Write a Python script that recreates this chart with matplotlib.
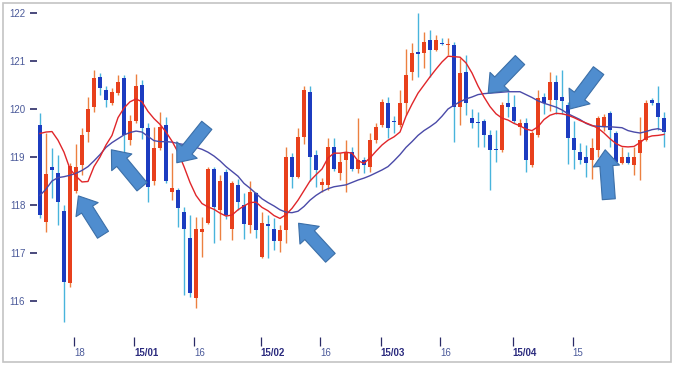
import numpy as np
import matplotlib
matplotlib.use('Agg')
import matplotlib.pyplot as plt
from matplotlib.patches import FancyArrowPatch, Rectangle, ArrowStyle

# daily candles (index 0 = first candle)
opens = [119.67, 117.65, 118.80, 118.66, 117.88, 116.37, 118.30, 118.83, 119.53, 120.05,
         120.67, 120.40, 120.12, 120.33, 120.64, 119.35, 119.74, 120.50, 119.60, 118.50,
         119.18, 119.67, 118.28, 118.31, 117.86, 117.31, 116.06, 117.44, 117.62, 118.76,
         117.90, 118.69, 117.51, 118.42, 118.00, 117.58, 118.24, 116.92, 117.60, 117.51,
         117.24, 117.48, 119.01, 118.59, 119.42, 120.36, 119.04, 118.42, 118.42, 119.21,
         118.66, 118.94, 119.11, 118.76, 118.94, 118.80, 119.35, 119.67, 120.12, 119.76,
         119.67, 120.12, 120.78, 121.18, 121.16, 121.44, 121.23, 121.38, 121.33, 121.33,
         120.05, 120.78, 119.81, 119.72, 119.74, 119.46, 119.17, 119.15, 120.12, 120.05,
         119.63, 119.70, 118.83, 119.46, 120.26, 120.19, 120.57, 120.24, 120.08, 119.39,
         119.11, 119.01, 118.94, 119.15, 119.63, 119.91, 119.49, 118.87, 119.01, 118.83,
         119.08, 119.35, 120.19, 120.12, 119.81]
highs = [119.91, 119.50, 119.18, 119.04, 118.00, 118.88, 119.28, 119.60, 120.26, 120.81,
         120.74, 120.47, 120.43, 120.71, 120.70, 119.87, 120.73, 120.60, 119.70, 119.63,
         119.94, 119.84, 119.08, 118.35, 117.96, 117.79, 117.76, 117.76, 118.80, 118.80,
         118.63, 118.75, 118.49, 118.55, 118.25, 118.49, 118.28, 117.86, 117.79, 117.72,
         117.58, 119.21, 119.08, 119.60, 120.47, 120.47, 119.15, 118.56, 119.39, 119.39,
         119.08, 119.35, 119.20, 119.81, 119.00, 119.49, 119.70, 120.20, 120.26, 119.85,
         120.40, 121.26, 121.37, 121.99, 121.61, 121.65, 121.55, 121.47, 121.47, 121.40,
         121.06, 121.13, 120.00, 119.94, 119.80, 119.56, 119.56, 120.15, 120.36, 120.30,
         119.80, 119.81, 119.55, 120.40, 120.33, 120.78, 120.70, 120.81, 120.15, 119.74,
         119.30, 119.25, 119.40, 119.85, 119.90, 119.95, 119.55, 119.20, 119.10, 119.21,
         119.84, 120.19, 120.22, 120.47, 119.94]
lows = [117.73, 117.44, 118.14, 117.58, 115.57, 116.30, 118.25, 118.63, 119.32, 119.94,
        120.29, 120.05, 120.08, 120.29, 119.10, 119.25, 119.70, 119.38, 118.07, 118.42,
        119.15, 118.45, 118.10, 117.55, 116.13, 116.09, 115.85, 116.92, 117.60, 117.20,
        117.27, 117.70, 117.27, 117.90, 117.30, 117.41, 117.31, 116.89, 116.89, 117.06,
        117.03, 117.20, 118.35, 118.56, 119.28, 118.49, 118.38, 118.28, 118.31, 118.70,
        118.52, 118.28, 118.70, 118.66, 118.66, 118.69, 119.30, 119.63, 119.39, 119.50,
        119.63, 119.87, 120.60, 120.67, 120.85, 120.67, 121.20, 121.33, 121.13, 119.32,
        119.67, 119.87, 119.60, 119.21, 119.20, 118.31, 118.90, 119.10, 119.84, 119.70,
        119.46, 118.69, 118.80, 119.42, 119.90, 119.95, 119.90, 119.90, 118.85, 118.76,
        118.85, 118.59, 118.55, 119.00, 119.55, 119.20, 118.85, 118.85, 118.85, 118.63,
        118.52, 119.33, 120.08, 119.56, 119.21]
closes = [117.79, 118.65, 118.72, 118.07, 116.40, 118.81, 118.80, 119.46, 120.01, 120.64,
          120.43, 120.19, 120.36, 120.57, 119.45, 119.74, 120.47, 119.60, 118.38, 119.18,
          119.63, 118.49, 118.35, 117.93, 117.51, 116.16, 117.51, 117.51, 118.76, 117.96,
          118.49, 117.79, 118.45, 118.07, 117.60, 118.28, 117.48, 117.62, 117.56, 117.24,
          117.48, 119.01, 118.59, 119.42, 120.40, 119.01, 118.73, 118.47, 119.21, 118.76,
          118.90, 119.08, 118.76, 118.94, 118.83, 119.35, 119.63, 120.15, 119.60, 119.72,
          120.12, 120.71, 121.16, 121.14, 121.40, 121.23, 121.44, 121.35, 121.36, 120.05,
          120.74, 120.12, 119.70, 119.70, 119.46, 119.15, 119.14, 120.08, 120.05, 119.74,
          119.70, 118.94, 119.49, 120.22, 120.12, 120.57, 120.19, 120.16, 119.39, 119.15,
          118.94, 118.87, 119.18, 119.81, 119.84, 119.56, 118.90, 119.01, 118.87, 119.01,
          119.35, 120.12, 120.12, 119.84, 119.53]

# moving averages as drawn (short = red, long = navy)
ma_short = [119.49, 119.52, 119.53, 119.35, 119.10, 118.75, 118.60, 118.48, 118.49, 118.80,
            119.00, 119.25, 119.45, 119.82, 120.02, 120.15, 120.21, 120.15, 119.95, 119.80,
            119.68, 119.52, 119.33, 119.10, 118.80, 118.47, 118.20, 118.03, 117.96, 117.91,
            117.83, 117.77, 117.79, 117.90, 117.98, 118.05, 118.06, 117.95, 117.88, 117.78,
            117.72, 117.80, 117.93, 118.10, 118.30, 118.50, 118.63, 118.75, 118.98, 119.08,
            119.08, 119.10, 119.08, 118.92, 118.87, 118.98, 119.12, 119.25, 119.35, 119.42,
            119.52, 119.85, 120.10, 120.33, 120.50, 120.67, 120.83, 120.98, 121.10, 121.09,
            121.08, 120.96, 120.75, 120.48, 120.25, 120.05, 119.90, 119.81, 119.77, 119.70,
            119.65, 119.58, 119.55, 119.63, 119.78, 119.87, 119.91, 119.90, 119.87, 119.82,
            119.76, 119.71, 119.66, 119.60, 119.50, 119.38, 119.28, 119.22, 119.21, 119.22,
            119.30, 119.40, 119.44, 119.45, 119.47]
ma_long = [118.20, 118.33, 118.50, 118.57, 118.59, 118.62, 118.66, 118.72, 118.80, 118.92,
           119.05, 119.20, 119.30, 119.38, 119.46, 119.51, 119.54, 119.52, 119.43, 119.34,
           119.32, 119.32, 119.31, 119.28, 119.26, 119.24, 119.20, 119.16, 119.10, 119.02,
           118.92, 118.80, 118.70, 118.60, 118.45, 118.35, 118.24, 118.13, 118.05, 117.98,
           117.90, 117.85, 117.84, 117.87, 117.97, 118.10, 118.20, 118.28, 118.34, 118.38,
           118.40, 118.42, 118.47, 118.52, 118.56, 118.61, 118.67, 118.73, 118.80, 118.92,
           119.05, 119.20, 119.32, 119.45, 119.55, 119.63, 119.72, 119.85, 120.00, 120.08,
           120.15, 120.21, 120.25, 120.30, 120.32, 120.33, 120.34, 120.35, 120.36, 120.36,
           120.36, 120.30, 120.24, 120.17, 120.12, 120.08, 120.04, 119.98, 119.90, 119.84,
           119.78, 119.70, 119.65, 119.64, 119.63, 119.63, 119.62, 119.61, 119.55, 119.52,
           119.50, 119.53, 119.57, 119.59, 119.55]

tick_pos = [5.67, 15.72, 25.72, 36.78, 46.72, 56.78, 66.72, 78.78, 88.78]
tick_labels = ['18', '15/01', '16', '15/02', '16', '15/03', '16', '15/04', '15']

# arrows: (tail index, tail value) -> (tip index, tip value)
arrows = [((10.5, 117.38), (6.4, 118.19)),
          ((17.0, 118.38), (11.9, 119.15)),
          ((27.8, 119.66), (22.8, 118.88)),
          ((48.4, 116.90), (43.1, 117.62)),
          ((80.0, 121.02), (74.7, 120.33)),
          ((93.1, 120.80), (88.3, 120.0)),
          ((94.8, 118.12), (94.2, 119.15))]

up_body, up_wick = '#e8401c', '#ec8040'
dn_body, dn_wick = '#1c3cc0', '#48b4dc'

fig = plt.figure(figsize=(6.75, 3.69), dpi=100)
ax = fig.add_axes([37 / 675, 1 - 337 / 369, 631 / 675, 332 / 369])

o = np.array(opens); c = np.array(closes)
h = np.array(highs); l = np.array(lows)
x = np.arange(len(o))
up = c >= o

ax.vlines(x[up], l[up], h[up], color=up_wick, lw=1.0, zorder=2)
ax.vlines(x[~up], l[~up], h[~up], color=dn_wick, lw=1.0, zorder=2)
ax.bar(x[up], c[up] - o[up], bottom=o[up], width=0.64, color=up_body, zorder=3)
ax.bar(x[~up], c[~up] - o[~up], bottom=o[~up], width=0.64, color=dn_body, zorder=3)

ax.plot(x, ma_long, color='#4a4aa8', lw=1.0, zorder=4)
ax.plot(x, ma_short, color='#e0262a', lw=1.0, zorder=5)

for (xa, ya), (xb, yb) in arrows:
    arr = FancyArrowPatch((xa, ya), (xb, yb),
                          arrowstyle=ArrowStyle.Simple(head_length=0.9, head_width=1.45, tail_width=0.72),
                          mutation_scale=13, shrinkA=0, shrinkB=0,
                          fc='#4f8dcf', ec='#3b6fa8', lw=0.8, zorder=6)
    ax.add_patch(arr)

ax.set_xlim(-0.5, -0.5 + 631 / 6)
ax.set_ylim(122 - 324 / 48, 122 + 8 / 48)

for s in ax.spines.values():
    s.set_visible(False)

ax.set_yticks([116, 117, 118, 119, 120, 121, 122])
ax.tick_params(axis='y', length=5, width=1.2, color='#2a2a66', pad=3.5,
               labelsize=7, labelcolor='#4b5a9a')
ax.set_xticks(tick_pos)
ax.set_xticklabels(tick_labels)
ax.tick_params(axis='x', length=6.5, width=0.9, color='#2a2a66', pad=1.5, labelsize=7)
for lab, txt in zip(ax.get_xticklabels(), tick_labels):
    lab.set_horizontalalignment('left')
    lab.set_fontfamily('Liberation Sans')
    if '/' in txt:
        lab.set_fontweight('bold')
        lab.set_color('#2b2b7e')
    else:
        lab.set_color('#4b5a9a')
for lab in ax.get_yticklabels():
    lab.set_fontfamily('Liberation Sans')

fig.add_artist(Rectangle((3 / 675, 1 - 362 / 369), 668 / 675, 359 / 369,
                         transform=fig.transFigure, fill=False, ec='#c4c4c4', lw=1.2))

fig.savefig('out.png', dpi=100, facecolor='white')
